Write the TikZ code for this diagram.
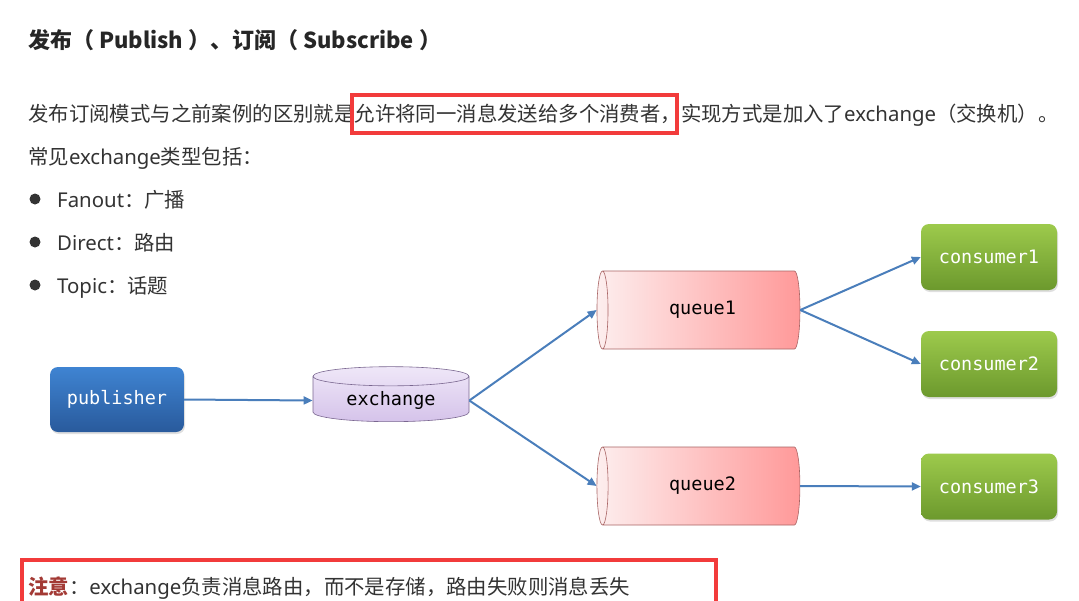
\documentclass[tikz,border=0pt]{standalone}
\usepackage{fontspec}
\setmainfont{Noto Sans CJK SC}
\newfontfamily\latinfont{Noto Sans}
\newfontfamily\codefont{DejaVu Sans Mono}
\newcommand\enword[1]{{\latinfont #1}}
\usetikzlibrary{arrows.meta,positioning,shapes.geometric,shadows}
\definecolor{Ink}{HTML}{333333}
\definecolor{Mark}{HTML}{F23B3B}
\definecolor{Wire}{HTML}{4A7EBB}
\definecolor{PubTop}{HTML}{3F84D2}
\definecolor{PubBot}{HTML}{295A9C}
\definecolor{ConTop}{HTML}{9DCA4C}
\definecolor{ConBot}{HTML}{6C992D}
\definecolor{QueLeft}{HTML}{FDEEEE}
\definecolor{QueRight}{HTML}{FF9999}
\definecolor{QueLine}{HTML}{A86464}
\definecolor{ExTop}{HTML}{EFE7F8}
\definecolor{ExBot}{HTML}{D5C3EA}
\definecolor{ExLine}{HTML}{7A6790}
\definecolor{Warn}{HTML}{A33A35}

\tikzset{
  txt/.style={anchor=base west, inner sep=0pt, text=Ink, font=\fontsize{20.4}{24}\selectfont},
  pubbox/.style={rounded corners=8pt, minimum width=134pt, minimum height=65pt,
    top color=PubTop, bottom color=PubBot, text=white,
    font=\codefont\fontsize{18.5}{20}\selectfont,
    drop shadow={opacity=0.25, shadow xshift=1pt, shadow yshift=-2pt}},
  conbox/.style={rounded corners=8pt, minimum width=136pt, minimum height=66pt,
    top color=ConTop, bottom color=ConBot, text=white,
    font=\codefont\fontsize{18.5}{20}\selectfont,
    drop shadow={opacity=0.25, shadow xshift=1pt, shadow yshift=-2pt}},
  quecyl/.style={cylinder, shape border rotate=180, shape aspect=0.46,
    minimum width=78pt, minimum height=203pt,
    left color=QueLeft, right color=QueRight, draw=QueLine, line width=0.6pt,
    text=black, font=\codefont\fontsize{18.5}{20}\selectfont},
  excyl/.style={cylinder, shape border rotate=90, shape aspect=0.2,
    minimum width=156pt, minimum height=55pt,
    top color=ExTop, bottom color=ExBot, draw=ExLine, line width=0.6pt,
    text=black, font=\codefont\fontsize{18.5}{20}\selectfont},
  flow/.style={-{Triangle[length=9pt,width=8pt]}, draw=Wire, line width=2pt},
  markbox/.style={draw=Mark, line width=4pt},
}

\begin{document}
\begin{tikzpicture}[x=1pt, y=-1pt]
  \useasboundingbox (0,0) rectangle (1079,600);

  % heading and text
  \node[txt, font=\bfseries\fontsize{22}{24}\selectfont, text=black!85] (title) at (28,48)
    {发布（ Publish ）、订阅（ Subscribe ）};
  \node[txt] (intro) at (28,121)
    {发布订阅模式与之前案例的区别就是允许将同一消息发送给多个消费者，实现方式是加入了\enword{exchange}（交换机）。};
  \node[txt] (kinds) at (28,164) {常见\enword{exchange}类型包括：};
  \draw[markbox] (352,95) rectangle (677,133);

  \fill[Ink] (35,199) circle (5.5pt);
  \fill[Ink] (35,242) circle (5.5pt);
  \fill[Ink] (35,285) circle (5.5pt);
  \node[txt] (fanout) at (57,207) {\enword{Fanout}：广播};
  \node[txt] (direct) at (57,250) {\enword{Direct}：路由};
  \node[txt] (topic) at (57,293) {\enword{Topic}：话题};

  % flow
  \node[pubbox] (pub) at (117,399.5) {publisher};
  \node[excyl] (ex) at (391,400.5) {exchange};
  \node[quecyl] (q1) at (702.5,310) {queue1};
  \node[quecyl] (q2) at (702.5,486) {queue2};
  \node[conbox] (c1) at (989,257) {consumer1};
  \node[conbox] (c2) at (989,364) {consumer2};
  \node[conbox] (c3) at (989,486.5) {consumer3};

  \draw[flow] (pub.east) -- (ex.180);
  \draw[flow] (ex.0) -- (q1.180);
  \draw[flow] (ex.0) -- (q2.180);
  \draw[flow] (q1.0) -- (c1.west);
  \draw[flow] (q1.0) -- (c2.west);
  \draw[flow] (q2.0) -- (c3.west);

  % note
  \node[txt] (note) at (28,594)
    {\textcolor{Warn}{\bfseries 注意}：\enword{exchange}负责消息路由，而不是存储，路由失败则消息丢失};
  \draw[markbox] (22,606) -- (22,560) -- (716,560) -- (716,606);
\end{tikzpicture}
\end{document}
